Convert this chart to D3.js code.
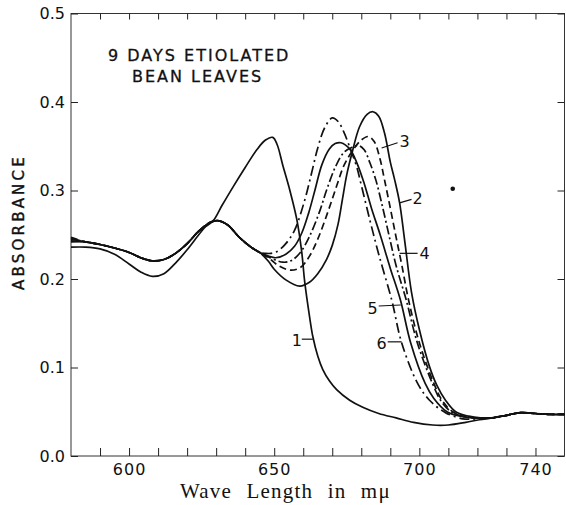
<!DOCTYPE html>
<html>
<head>
<meta charset="utf-8">
<script src="https://cdn.jsdelivr.net/npm/d3@7"></script>
<style>
  body { margin: 0; background: #fff; }
</style>
</head>
<body>
<div id="chart"></div>
<script>
// wave length (m\u03bc) vs absorbance

// curve 1 : before illumination
const curve1 = [[580,0.236],[585,0.236],[590,0.234],[595,0.228],[600,0.217],[604,0.208],[608,0.203],[612,0.206],
  [616,0.218],[620,0.233],[624,0.250],[626,0.258],[629,0.266],[632,0.283],[636,0.305],[640,0.326],[644,0.346],
  [647,0.357],[649.5,0.360],[651,0.352],[653,0.328],[655.4,0.300],[657.8,0.267],[659.5,0.230],[660.5,0.197],
  [662.2,0.157],[663.3,0.135],[665,0.113],[666.7,0.098],[669,0.085],[671.5,0.075],[676,0.063],[680.5,0.055],
  [686,0.048],[692,0.043],[698,0.038],[704.6,0.035],[710,0.035],[716,0.038],[720.7,0.041],
  [725,0.043],[730,0.046],[735,0.049],[740,0.048],[745,0.047],[750,0.047]];

// curves 2-6 share the part below 645 and the tail above 725
const commonLeft = [[585,0.242],[590,0.239],[595,0.235],[600,0.230],[604,0.224],[608,0.2205],[612,0.222],
  [616,0.229],[620,0.240],[624,0.254],[628,0.264],[630.5,0.266],[634,0.261],[638,0.247],[642,0.236],[645,0.230]];
const commonTail = [[725,0.043],[730,0.046],[735,0.049],[740,0.048],[745,0.047],[750,0.047]];

const curve2 = [[580,0.242], ...commonLeft,
  [648,0.220],[650,0.211],[654,0.199],[658.8,0.192],[662,0.196],[665,0.206],[668,0.222],[670,0.238],[672,0.262],
  [673.5,0.290],[675,0.318],[677,0.345],[679.4,0.372],[682,0.386],[684,0.389],[686,0.384],[688,0.365],[690,0.332],
  [691.5,0.312],[693.2,0.286],[695,0.242],[697.3,0.185],[700,0.143],[703.5,0.101],[706,0.080],[709,0.063],
  [712.5,0.050],[717,0.045],[721,0.043], ...commonTail];

const curve3 = [[580,0.247], ...commonLeft,
  [648,0.224],[651.5,0.215],[655.5,0.210],[659,0.213],[662,0.225],[665,0.245],[668.4,0.275],[671.5,0.305],
  [674,0.328],[677,0.345],[680,0.357],[682.5,0.361],[684.5,0.355],[686.5,0.335],[688,0.312],[690,0.280],
  [692,0.247],[694,0.215],[696.3,0.176],[700,0.128],[705,0.082],[708,0.062],[711.5,0.050],[716,0.044],
  [721,0.043], ...commonTail];

const curve4 = [[580,0.245], ...commonLeft,
  [648,0.225],[653,0.219],[656,0.221],[659,0.230],[662,0.247],[665.5,0.275],[668,0.300],[671,0.326],[674,0.343],
  [677,0.349],[679,0.351],[681,0.346],[683,0.331],[685,0.312],[687,0.286],[689.5,0.250],[692,0.215],[695.5,0.176],
  [699.3,0.128],[704.5,0.082],[707.5,0.062],[711,0.050],[716,0.044],[721,0.043], ...commonTail];

const curve5 = [[580,0.243], ...commonLeft,
  [648,0.226],[650.5,0.224],[654,0.228],[657,0.237],[659.5,0.252],[661.9,0.275],[664,0.300],[666.4,0.329],
  [669,0.347],[671,0.353],[673,0.354],[676,0.347],[678.5,0.331],[681,0.308],[683.5,0.280],[686.5,0.250],
  [690,0.212],[693.5,0.176],[697,0.128],[702,0.082],[705,0.065],[709.5,0.050],[714,0.045],[718,0.043],
  [721,0.043], ...commonTail];

const curve6 = [[580,0.246], ...commonLeft,
  [647,0.229],[649,0.229],[651,0.231],[654,0.240],[657,0.255],[660.5,0.289],[662.9,0.320],[665,0.348],
  [667.4,0.371],[670,0.382],[672,0.378],[674,0.366],[676,0.349],[678.4,0.327],[680,0.306],[683,0.266],
  [686,0.228],[690.5,0.176],[693.9,0.128],[699.4,0.082],[703.5,0.063],[709,0.049],[715,0.042],[720,0.042],
  ...commonTail];

const seriesNames = ["1", "2", "3", "4", "5", "6"];
const seriesData = [curve1, curve2, curve3, curve4, curve5, curve6];

// curve labels: text position and leader line, in data units
const labelText = [[657.8,0.131],[699.4,0.2915],[694.9,0.355],[701.8,0.229],[683.9,0.167],[687.0,0.1266]];
const labelLeader = [[659.5,663.3,0.132,0.132],[693.2,697.3,0.286,0.290],[687.0,692.5,0.348,0.354],
  [693.2,699.4,0.229,0.229],[686.0,693.6,0.1695,0.1706],[689.1,693.9,0.129,0.129]];

const xTickValues = [590,600,610,620,630,640,650,660,670,680,690,700,710,720,730,740];
const xTickLabels = [600, 650, 700, 740];
const yTickValues = [0, 0.1, 0.2, 0.3, 0.4, 0.5];
const strayDot = [711.5, 0.302];

const width = 566, height = 505;
const margin = {top: 13.5, right: 1.5, bottom: 49, left: 71};

const svg = d3.select("#chart").append("svg")
  .attr("width", width)
  .attr("height", height)
  .style("font-family", "'DejaVu Sans', sans-serif");

const x = d3.scaleLinear().domain([580, 750]).range([margin.left, width - margin.right]);
const y = d3.scaleLinear().domain([0, 0.5]).range([height - margin.bottom, margin.top]);

// frame
svg.append("rect")
  .attr("x", x(580)).attr("y", y(0.5))
  .attr("width", x(750) - x(580)).attr("height", y(0) - y(0.5))
  .attr("fill", "none").attr("stroke", "#333").attr("stroke-width", 1);

// bottom axis
const xAxis = svg.append("g")
  .attr("transform", `translate(0,${y(0)})`)
  .call(d3.axisBottom(x).tickValues(xTickValues).tickSizeInner(-8).tickSizeOuter(0).tickPadding(8)
    .tickFormat(d => xTickLabels.includes(d) ? d : ""));
xAxis.select(".domain").remove();
xAxis.selectAll("text").attr("font-size", 16).attr("letter-spacing", 1)
  .attr("font-family", "'DejaVu Sans', sans-serif").attr("fill", "#111");
xAxis.selectAll("line").attr("stroke", "#222");

// top axis
const xTop = svg.append("g")
  .attr("transform", `translate(0,${y(0.5)})`)
  .call(d3.axisTop(x).tickValues(xTickValues).tickSizeInner(-6).tickSizeOuter(0).tickFormat(""));
xTop.select(".domain").remove();
xTop.selectAll("line").attr("stroke", "#222");

// left axis
const yAxis = svg.append("g")
  .attr("transform", `translate(${x(580)},0)`)
  .call(d3.axisLeft(y).tickValues(yTickValues).tickSizeInner(-7).tickSizeOuter(0).tickPadding(6)
    .tickFormat(d3.format(".1f")));
yAxis.select(".domain").remove();
yAxis.selectAll("text").attr("font-size", 16)
  .attr("font-family", "'DejaVu Sans', sans-serif").attr("fill", "#111");
yAxis.selectAll("line").attr("stroke", "#222");

// right axis
const yRight = svg.append("g")
  .attr("transform", `translate(${x(750)},0)`)
  .call(d3.axisRight(y).tickValues(yTickValues).tickSizeInner(-7).tickSizeOuter(0).tickFormat(""));
yRight.select(".domain").remove();
yRight.selectAll("line").attr("stroke", "#222");

// curves
const line = d3.line()
  .x(d => x(d[0]))
  .y(d => y(d[1]))
  .curve(d3.curveCatmullRom.alpha(0.5));

const dashes = ["none", "none", "7,4", "9,3,2,3", "none", "10,4,2,4"];

svg.append("g").selectAll("path")
  .data(seriesData)
  .enter()
  .append("path")
  .attr("d", line)
  .attr("fill", "none")
  .attr("stroke", "#111")
  .attr("stroke-width", 1.7)
  .attr("stroke-dasharray", (d, i) => dashes[i]);

// curve labels
const labels = svg.append("g");
labels.selectAll("line")
  .data(labelLeader)
  .enter()
  .append("line")
  .attr("x1", d => x(d[0])).attr("x2", d => x(d[1]))
  .attr("y1", d => y(d[2])).attr("y2", d => y(d[3]))
  .attr("stroke", "#111").attr("stroke-width", 1.2);

labels.selectAll("text")
  .data(labelText)
  .enter()
  .append("text")
  .attr("x", d => x(d[0]))
  .attr("y", d => y(d[1]))
  .attr("text-anchor", "middle")
  .attr("dominant-baseline", "central")
  .attr("font-size", 16)
  .attr("fill", "#111")
  .text((d, i) => seriesNames[i]);

svg.append("circle")
  .attr("cx", x(strayDot[0])).attr("cy", y(strayDot[1]))
  .attr("r", 2.3).attr("fill", "#111");

// title
svg.append("text")
  .attr("x", 108).attr("y", 61)
  .attr("font-size", 16).attr("letter-spacing", 2).attr("fill", "#111")
  .attr("stroke", "#111").attr("stroke-width", 0.3)
  .text("9 DAYS ETIOLATED");
svg.append("text")
  .attr("x", 132).attr("y", 82)
  .attr("font-size", 16).attr("letter-spacing", 2).attr("fill", "#111")
  .attr("stroke", "#111").attr("stroke-width", 0.3)
  .text("BEAN LEAVES");

// axis titles
svg.append("text")
  .attr("transform", "translate(24,222) rotate(-90)")
  .attr("text-anchor", "middle")
  .attr("font-size", 15).attr("letter-spacing", 3.2).attr("fill", "#111")
  .attr("stroke", "#111").attr("stroke-width", 0.4)
  .text("ABSORBANCE");

svg.append("text")
  .attr("x", 180).attr("y", 498)
  .attr("font-family", "'Liberation Serif', 'DejaVu Serif', serif")
  .attr("font-size", 21).attr("letter-spacing", 1.2).attr("word-spacing", 8).attr("fill", "#111")
  .text("Wave Length in m\u03bc");
</script>
</body>
</html>
